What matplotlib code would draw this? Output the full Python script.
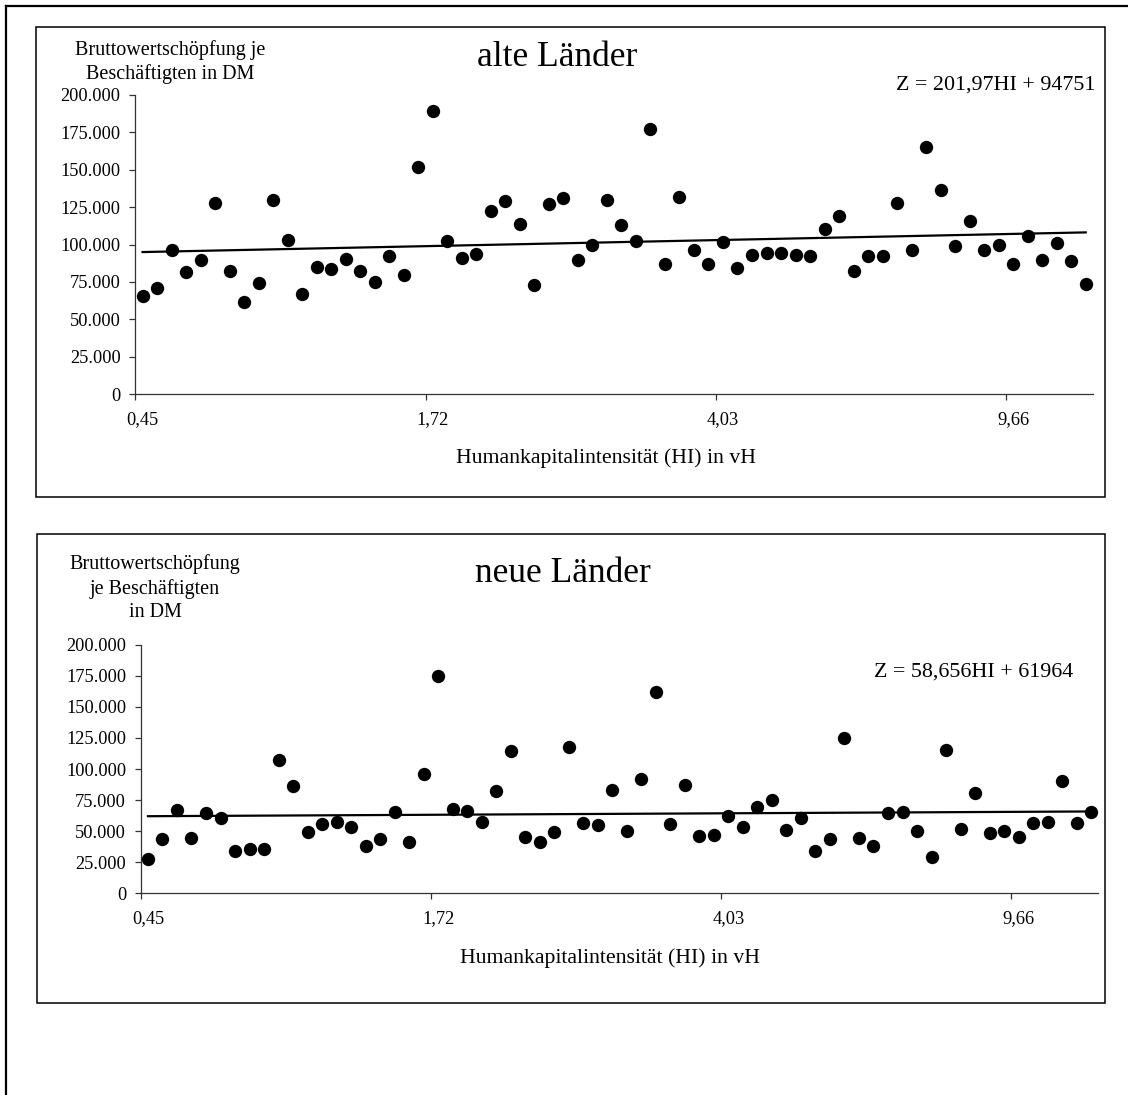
import matplotlib
matplotlib.use("Agg")
import matplotlib.pyplot as plt
from matplotlib.ticker import FuncFormatter, FixedLocator
from matplotlib.patches import Rectangle
from matplotlib.lines import Line2D
import numpy as np

plt.rcParams['font.family'] = ['Liberation Serif', 'DejaVu Serif']

# ---------------- data ----------------
alte_values = [65500, 70800, 96000, 81700, 89500, 127400, 82600, 61300, 74400, 129800,
               102700, 66800, 85100, 83700, 90000, 82400, 74800, 92200, 79500, 151700,
               189100, 102200, 90900, 93500, 122500, 129000, 114000, 73000, 127200, 131000,
               89700, 99800, 129400, 112900, 102200, 177100, 87100, 131600, 96400, 86900,
               101800, 84600, 93300, 94000, 94200, 93300, 92600, 110200, 118900, 82600,
               92600, 92400, 127800, 96400, 165000, 136100, 98700, 115600, 96000, 99800,
               87100, 106000, 89700, 101300, 89100, 73300]
neue_values = [27800, 43500, 66800, 44300, 64900, 60400, 34200, 35300, 35300, 107100,
               86000, 49400, 56100, 57400, 53400, 37900, 43300, 65700, 41400, 96200,
               175000, 68000, 66000, 57400, 82500, 114100, 45100, 41400, 49700, 117800,
               56900, 55300, 82800, 50200, 92200, 162100, 56100, 87100, 46500, 47000,
               62500, 53200, 69200, 75000, 50800, 60400, 33700, 43300, 124700, 44600,
               37900, 64900, 65400, 50000, 28900, 114900, 51600, 80700, 48300, 50500,
               44900, 56400, 57400, 90300, 56900, 65400]
# labelled categories (index of category, label text)
xtick_index = [0, 20, 40, 60]
xtick_labels = ["0,45", "1,72", "4,03", "9,66"]
yticks = [0, 25000, 50000, 75000, 100000, 125000, 150000, 175000, 200000]
# trend lines Z = a*HI + b (Excel, category number 1..n)
alte_slope, alte_intercept = 201.97, 94751
neue_slope, neue_intercept = 58.656, 61964

W, H = 1128, 1095
fig = plt.figure(figsize=(W / 100, H / 100), dpi=100)


def rect(l, t, r, b):
    return [l / W, 1 - b / H, (r - l) / W, (b - t) / H]


# outer frame (left & top only visible)
fig.add_artist(Line2D([6 / W, 6 / W], [0, 1 - 5.5 / H], transform=fig.transFigure,
                      color='black', lw=1.6))
fig.add_artist(Line2D([6 / W, 1], [1 - 5.5 / H, 1 - 5.5 / H], transform=fig.transFigure,
                      color='black', lw=1.6))


def panel(box, axrect, values, slope, intercept, title, title_xy, ylabel_lines,
          ylabel_xy, eq_text, eq_xy, xlabel_xy):
    l, t, r, b = box
    fig.add_artist(Rectangle((l / W, 1 - b / H), (r - l) / W, (b - t) / H,
                             transform=fig.transFigure, fill=False,
                             edgecolor='black', lw=1.1))
    ax = fig.add_axes(rect(*axrect))
    n = len(values)
    idx = np.arange(n)
    ax.plot(idx, values, 'o', color='black', markersize=9.6, zorder=3,
            markeredgewidth=0)
    cat = idx + 1
    ax.plot([idx[0], idx[-1]], [slope * cat[0] + intercept, slope * cat[-1] + intercept],
            color='black', lw=1.6, zorder=2)
    ax.set_xlim(-0.5, n - 0.5)
    ax.set_ylim(0, 200000)
    for s in ['top', 'right']:
        ax.spines[s].set_visible(False)
    for s in ['left', 'bottom']:
        ax.spines[s].set_color('#333333')
        ax.spines[s].set_linewidth(0.9)
    ax.set_yticks(yticks)
    ax.yaxis.set_major_formatter(FuncFormatter(
        lambda v, p: "0" if v == 0 else f"{int(v):,}".replace(",", ".")))
    ax.tick_params(axis='y', direction='out', length=4.5, width=0.9, color='#333333',
                   labelsize=13.2, pad=6)
    # tick marks between categories, labels centred on categories
    ax.xaxis.set_major_locator(FixedLocator([i - 0.5 for i in xtick_index]))
    ax.xaxis.set_major_formatter(FuncFormatter(lambda v, p: ""))
    ax.xaxis.set_minor_locator(FixedLocator(xtick_index))
    ax.set_xticklabels(xtick_labels, minor=True)
    ax.tick_params(axis='x', which='major', direction='out', length=4.5, width=0.9,
                   color='#333333')
    ax.tick_params(axis='x', which='minor', length=0, labelsize=13.2, pad=12)
    ax.set_facecolor('none')

    fig.text(title_xy[0] / W, 1 - title_xy[1] / H, title, fontsize=25.5,
             ha='center', va='center')
    fig.text(ylabel_xy[0] / W, 1 - ylabel_xy[1] / H, "\n".join(ylabel_lines),
             fontsize=14.5, ha='center', va='center', multialignment='center',
             linespacing=1.3)
    fig.text(eq_xy[0] / W, 1 - eq_xy[1] / H, eq_text, fontsize=15.8,
             ha='right', va='center')
    fig.text(xlabel_xy[0] / W, 1 - xlabel_xy[1] / H, "Humankapitalintensität (HI) in vH",
             fontsize=15.7, ha='center', va='center')
    return ax


panel((36, 27, 1105, 497), (135.3, 94.7, 1093, 394.3), alte_values, alte_slope,
      alte_intercept, "alte Länder", (557, 57),
      ["Bruttowertschöpfung je", "Beschäftigten in DM"], (170, 62),
      "Z = 201,97HI + 94751", (1095, 85), (606, 458))

panel((37, 534, 1105, 1003), (140.7, 644.7, 1098.4, 893.3), neue_values, neue_slope,
      neue_intercept, "neue Länder", (563, 573),
      ["Bruttowertschöpfung", "je Beschäftigten", "in DM"], (155, 588),
      "Z = 58,656HI + 61964", (1073, 672), (610, 958))

fig.savefig("out.png", dpi=100)
